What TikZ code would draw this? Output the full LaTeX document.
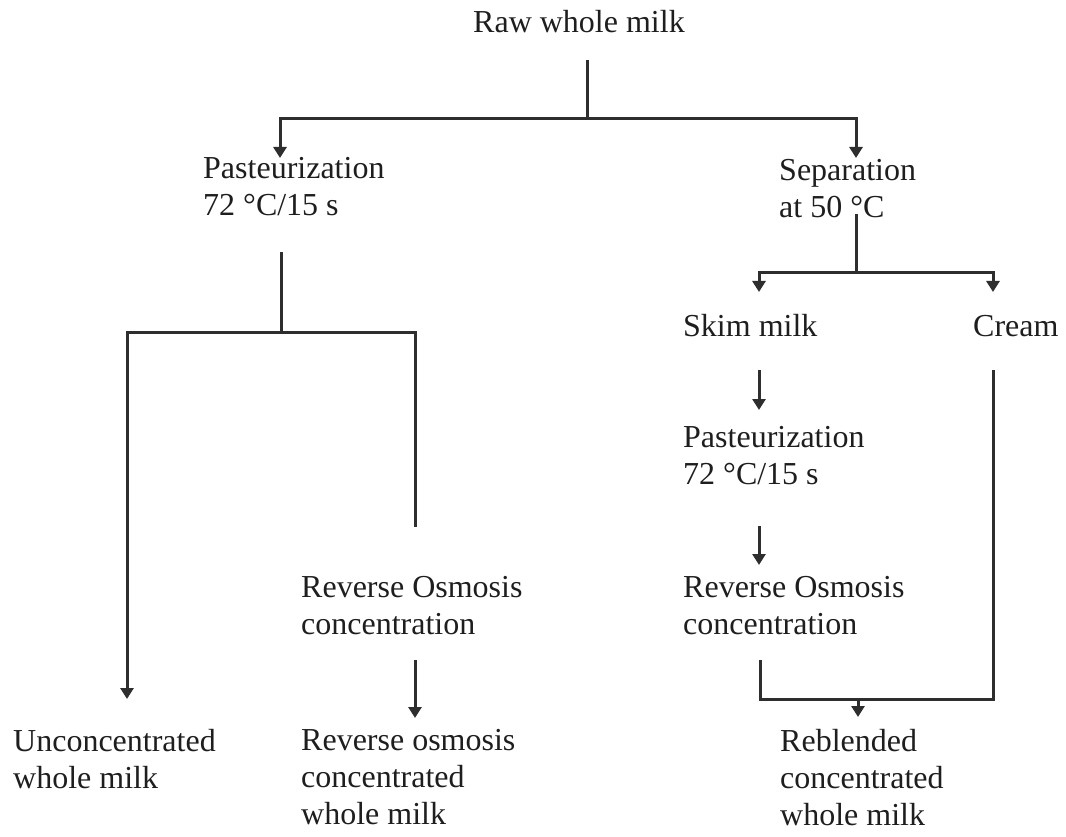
\documentclass[tikz,border=0pt]{standalone}
\usepackage{fontspec}
\setmainfont{Liberation Serif}
\usetikzlibrary{arrows.meta}
\definecolor{ink}{HTML}{1E1E1E}
\definecolor{wire}{HTML}{2E2E2E}
\begin{document}
\begin{tikzpicture}[x=1pt,y=-1pt,
  stagetext/.style={anchor=north west, inner sep=0pt, align=left, text=ink,
    font=\fontsize{32}{37}\selectfont, execute at begin node=\strut},
  link/.style={draw=wire, line width=3pt},
  flow/.style={link, -{Triangle[width=13pt,length=11pt]}}
]
\useasboundingbox (0,0) rectangle (1066,837);

% process stages
\node[stagetext] (raw)     at (473,6.1)   {Raw whole milk};
\node[stagetext] (past1)   at (203,157.1) {Pasteurization\\72 °C/15 s};
\node[stagetext] (sep)     at (779,159.1) {Separation\\at 50 °C};
\node[stagetext] (skim)    at (683,310.1) {Skim milk};
\node[stagetext] (cream)   at (973,310.1) {Cream};
\node[stagetext] (past2)   at (683,426.1) {Pasteurization\\72 °C/15 s};
\node[stagetext] (ro2)     at (683,576.1) {Reverse Osmosis\\concentration};
\node[stagetext] (ro1)     at (301,576.1) {Reverse Osmosis\\concentration};
\node[stagetext] (unconc)  at (13,729.1)  {Unconcentrated\\whole milk};
\node[stagetext] (roprod)  at (301,729.1) {Reverse osmosis\\concentrated\\whole milk};
\node[stagetext] (reblend) at (780,729.1) {Reblended\\concentrated\\whole milk};

% connector end points
\coordinate (rawOut)    at (587,60);
\coordinate (rawFork)   at (587,119);
\coordinate (past1In)   at (280,158);
\coordinate (sepIn)     at (856,158);
\coordinate (sepOut)    at (856,214);
\coordinate (sepFork)   at (856,273);
\coordinate (skimIn)    at (759,292);
\coordinate (creamIn)   at (993,292);
\coordinate (past1Out)  at (281,252);
\coordinate (past1Fork) at (281,332);
\coordinate (unconcIn)  at (127,699);
\coordinate (ro1In)     at (415,527);
\coordinate (ro1Out)    at (415,660);
\coordinate (roprodIn)  at (415,718);
\coordinate (skimOut)   at (759,370);
\coordinate (past2In)   at (759,410);
\coordinate (past2Out)  at (759,526);
\coordinate (ro2In)     at (759,565);
\coordinate (ro2Out)    at (760,660);
\coordinate (creamOut)  at (993,370);
\coordinate (blendJoin) at (858,699);
\coordinate (reblendIn) at (858,717);

% raw milk split
\draw[link] (rawOut) -- (rawFork);
\draw[flow] (rawFork) -| (past1In);
\draw[flow] (rawFork) -| (sepIn);

% separation into skim milk and cream
\draw[link] (sepOut) -- (sepFork);
\draw[flow] (sepFork) -| (skimIn);
\draw[flow] (sepFork) -| (creamIn);

% pasteurized whole milk branches
\draw[link] (past1Out) -- (past1Fork);
\draw[flow] (past1Fork) -| (unconcIn);
\draw[link] (past1Fork) -| (ro1In);
\draw[flow] (ro1Out) -- (roprodIn);

% skim milk line
\draw[flow] (skimOut) -- (past2In);
\draw[flow] (past2Out) -- (ro2In);

% reblending of retentate and cream
\draw[link] (ro2Out) |- (blendJoin) -| (creamOut);
\draw[flow] (blendJoin) -- (reblendIn);
\end{tikzpicture}
\end{document}
